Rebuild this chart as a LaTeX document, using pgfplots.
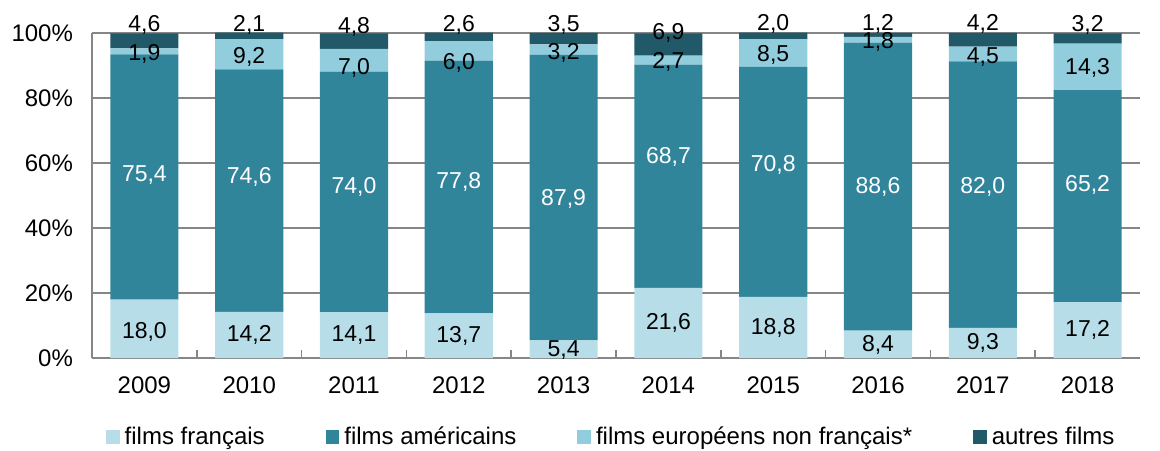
\documentclass[border=0pt]{standalone}
\usepackage{fontspec}
\setmainfont{Liberation Sans}
\usepackage{pgfplots}
\usepackage{pgfplotstable}
\pgfplotsset{compat=1.18}
\definecolor{frc}{RGB}{183,222,232}
\definecolor{usc}{RGB}{49,133,155}
\definecolor{euc}{RGB}{146,205,221}
\definecolor{othc}{RGB}{33,89,104}
\definecolor{axgray}{RGB}{134,134,134}

% shares of entries (%), 2009-2018
\pgfplotstableread{
x fr us eu oth
0 18.0 75.4 1.9 4.6
1 14.2 74.6 9.2 2.1
2 14.1 74.0 7.0 4.8
3 13.7 77.8 6.0 2.6
4 5.4 87.9 3.2 3.5
5 21.6 68.7 2.7 6.9
6 18.8 70.8 8.5 2.0
7 8.4 88.6 1.8 1.2
8 9.3 82.0 4.5 4.2
9 17.2 65.2 14.3 3.2
}\shares

% label positions as placed in the reference
\pgfplotstableread{
x y lab
0 7.9 18,0
1 7.0 14,2
2 7.0 14,1
3 6.7 13,7
4 2.4 5,4
5 10.7 21,6
6 9.1 18,8
7 3.9 8,4
8 4.5 9,3
9 8.5 17,2
}\labfr
\pgfplotstableread{
x y lab
0 56.2 75,4
1 55.6 74,6
2 52.5 74,0
3 54.1 77,8
4 48.8 87,9
5 61.8 68,7
6 59.3 70,8
7 52.5 88,6
8 52.5 82,0
9 53.1 65,2
}\labus
\pgfplotstableread{
x y lab
0 93.7 1,9
1 92.5 9,2
2 89.1 7,0
3 90.7 6,0
4 94.0 3,2
5 91.0 2,7
6 93.4 8,5
7 97.1 1,8
8 92.5 4,5
9 89.1 14,3
}\labeu
\pgfplotstableread{
x y lab
0 102.4 4,6
1 102.4 2,1
2 102.0 4,8
3 102.4 2,6
4 102.4 3,5
5 99.9 6,9
6 102.7 2,0
7 102.9 1,2
8 102.7 4,2
9 102.4 3,2
}\laboth

\pgfplotsset{
  frame/.style={width=524pt, height=162.5pt, scale only axis,
    xmin=-0.5, xmax=9.5, ymin=0, ymax=100},
  lab/.style={draw=none, mark=none, nodes near coords,
    point meta=explicit symbolic,
    every node near coord/.append style={anchor=center,
      font=\fontsize{11.5}{13}\selectfont, text=#1}},
}

\begin{document}
\begin{tikzpicture}
\begin{axis}[
    frame,
    ybar stacked, bar width=0.65,
    axis x line*=bottom, axis y line*=left,
    axis line style={axgray, line width=0.75pt},
    xtick={0,...,9},
    xticklabels={2009,2010,2011,2012,2013,2014,2015,2016,2017,2018},
    minor xtick={0.5,1.5,...,8.5},
    minor x tick style={axgray, line width=0.75pt},
    major tick length=0pt, minor tick length=4pt,
    xtick align=inside,
    ytick={0,20,...,100},
    yticklabels={0\%,20\%,40\%,60\%,80\%,100\%},
    ymajorgrids, major grid style={axgray, line width=0.75pt},
    tick label style={font=\fontsize{12}{14}\selectfont},
    yticklabel style={xshift=-6pt},
    xticklabel style={yshift=-6pt},
    legend columns=4,
    legend style={draw=none, at={(0.496,0)}, anchor=center, yshift=-39.5pt,
      font=\fontsize{12}{14}\selectfont,
      nodes={inner sep=1.5pt},
      /tikz/every odd column/.append style={column sep=1pt},
      /tikz/every even column/.append style={column sep=29pt}},
    legend image code/.code={\fill[#1] (0pt,-3.4pt) rectangle (6.8pt,3.4pt);},
]
\addplot[fill=frc, draw=none] table[x=x, y=fr] {\shares};
\addplot[fill=usc, draw=none] table[x=x, y=us] {\shares};
\addplot[fill=euc, draw=none] table[x=x, y=eu] {\shares};
\addplot[fill=othc, draw=none] table[x=x, y=oth] {\shares};
\legend{films français, films américains, films européens non français*, autres films}
\end{axis}
\begin{axis}[frame, hide axis, clip=false]
\addplot[lab=black] table[x=x, y=y, meta=lab] {\labfr};
\addplot[lab=white] table[x=x, y=y, meta=lab] {\labus};
\addplot[lab=black] table[x=x, y=y, meta=lab] {\labeu};
\addplot[lab=black] table[x=x, y=y, meta=lab] {\laboth};
\end{axis}
\pgfresetboundingbox
\path[use as bounding box] (-46pt,-46pt) rectangle (534pt,179pt);
\end{tikzpicture}
\end{document}
